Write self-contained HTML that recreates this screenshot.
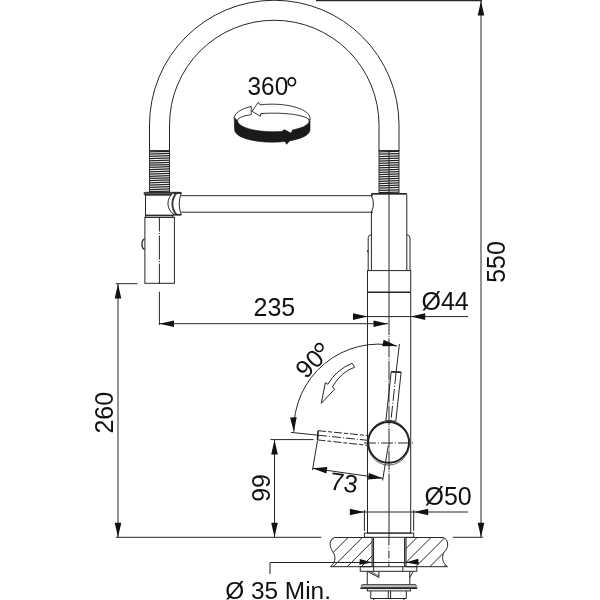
<!DOCTYPE html>
<html><head><meta charset="utf-8"><style>
html,body{margin:0;padding:0;background:#fff;}
svg{display:block;will-change:transform;}
.t{fill:none;stroke:#262626;stroke-width:1;}
.m{fill:none;stroke:#222;stroke-width:1.6;}
.w{fill:#fff;stroke:#262626;stroke-width:1;}
.f{fill:#111;stroke:none;}
text{font-family:"Liberation Sans",sans-serif;font-size:25px;fill:#111;}
</style></head><body>
<svg width="600" height="600" viewBox="0 0 600 600">
<path class="t" d="M149.5,151 V125 A124.75,124.75 0 0 1 399.0,125 V151"/>
<path class="t" d="M169.5,151 V125 A104.75,104.75 0 0 1 379.0,125 V151"/>
<rect x="149.5" y="150.5" width="20.0" height="42.0" fill="#fff" stroke="#333" stroke-width="1"/><line x1="149.5" y1="151.95526315789473" x2="169.5" y2="151.25526315789475" stroke="#222" stroke-width="1.25"/><line x1="149.5" y1="154.1657894736842" x2="169.5" y2="153.46578947368423" stroke="#222" stroke-width="1.25"/><line x1="149.5" y1="156.3763157894737" x2="169.5" y2="155.6763157894737" stroke="#222" stroke-width="1.25"/><line x1="149.5" y1="158.58684210526314" x2="169.5" y2="157.88684210526316" stroke="#222" stroke-width="1.25"/><line x1="149.5" y1="160.79736842105262" x2="169.5" y2="160.09736842105264" stroke="#222" stroke-width="1.25"/><line x1="149.5" y1="163.0078947368421" x2="169.5" y2="162.30789473684212" stroke="#222" stroke-width="1.25"/><line x1="149.5" y1="165.21842105263158" x2="169.5" y2="164.5184210526316" stroke="#222" stroke-width="1.25"/><line x1="149.5" y1="167.42894736842106" x2="169.5" y2="166.72894736842107" stroke="#222" stroke-width="1.25"/><line x1="149.5" y1="169.63947368421051" x2="169.5" y2="168.93947368421053" stroke="#222" stroke-width="1.25"/><line x1="149.5" y1="171.85" x2="169.5" y2="171.15" stroke="#222" stroke-width="1.25"/><line x1="149.5" y1="174.06052631578947" x2="169.5" y2="173.36052631578949" stroke="#222" stroke-width="1.25"/><line x1="149.5" y1="176.27105263157895" x2="169.5" y2="175.57105263157897" stroke="#222" stroke-width="1.25"/><line x1="149.5" y1="178.48157894736843" x2="169.5" y2="177.78157894736844" stroke="#222" stroke-width="1.25"/><line x1="149.5" y1="180.69210526315788" x2="169.5" y2="179.9921052631579" stroke="#222" stroke-width="1.25"/><line x1="149.5" y1="182.90263157894736" x2="169.5" y2="182.20263157894738" stroke="#222" stroke-width="1.25"/><line x1="149.5" y1="185.11315789473684" x2="169.5" y2="184.41315789473686" stroke="#222" stroke-width="1.25"/><line x1="149.5" y1="187.32368421052632" x2="169.5" y2="186.62368421052633" stroke="#222" stroke-width="1.25"/><line x1="149.5" y1="189.53421052631577" x2="169.5" y2="188.8342105263158" stroke="#222" stroke-width="1.25"/><line x1="149.5" y1="191.74473684210525" x2="169.5" y2="191.04473684210527" stroke="#222" stroke-width="1.25"/>
<rect x="379" y="150.5" width="20" height="43.0" fill="#fff" stroke="#333" stroke-width="1"/><line x1="379" y1="151.9815789473684" x2="399" y2="151.28157894736842" stroke="#222" stroke-width="1.25"/><line x1="379" y1="154.24473684210525" x2="399" y2="153.54473684210527" stroke="#222" stroke-width="1.25"/><line x1="379" y1="156.50789473684208" x2="399" y2="155.8078947368421" stroke="#222" stroke-width="1.25"/><line x1="379" y1="158.77105263157893" x2="399" y2="158.07105263157894" stroke="#222" stroke-width="1.25"/><line x1="379" y1="161.03421052631577" x2="399" y2="160.3342105263158" stroke="#222" stroke-width="1.25"/><line x1="379" y1="163.29736842105262" x2="399" y2="162.59736842105264" stroke="#222" stroke-width="1.25"/><line x1="379" y1="165.56052631578945" x2="399" y2="164.86052631578946" stroke="#222" stroke-width="1.25"/><line x1="379" y1="167.8236842105263" x2="399" y2="167.1236842105263" stroke="#222" stroke-width="1.25"/><line x1="379" y1="170.08684210526314" x2="399" y2="169.38684210526316" stroke="#222" stroke-width="1.25"/><line x1="379" y1="172.35" x2="399" y2="171.65" stroke="#222" stroke-width="1.25"/><line x1="379" y1="174.61315789473682" x2="399" y2="173.91315789473683" stroke="#222" stroke-width="1.25"/><line x1="379" y1="176.87631578947367" x2="399" y2="176.17631578947368" stroke="#222" stroke-width="1.25"/><line x1="379" y1="179.13947368421051" x2="399" y2="178.43947368421053" stroke="#222" stroke-width="1.25"/><line x1="379" y1="181.40263157894736" x2="399" y2="180.70263157894738" stroke="#222" stroke-width="1.25"/><line x1="379" y1="183.66578947368419" x2="399" y2="182.9657894736842" stroke="#222" stroke-width="1.25"/><line x1="379" y1="185.92894736842103" x2="399" y2="185.22894736842105" stroke="#222" stroke-width="1.25"/><line x1="379" y1="188.19210526315788" x2="399" y2="187.4921052631579" stroke="#222" stroke-width="1.25"/><line x1="379" y1="190.4552631578947" x2="399" y2="189.75526315789472" stroke="#222" stroke-width="1.25"/><line x1="379" y1="192.71842105263156" x2="399" y2="192.01842105263157" stroke="#222" stroke-width="1.25"/>
<rect x="144" y="192.3" width="37" height="2.6" rx="1" fill="#555" stroke="#222" stroke-width="0.8"/>
<rect class="t" x="145.5" y="195" width="28" height="20.3"/>
<rect class="t" x="145.7" y="215.3" width="27" height="2"/>
<rect class="t" x="144.9" y="217.3" width="29.5" height="66"/>
<path class="t" style="stroke-width:1.3" d="M144.6,238.9 C141.6,240 140.6,247.8 144.6,249.4"/>
<path class="w" d="M173.3,193 A13,13 0 0 0 174.3,214.7 L181.3,214.7 A30.4,30.4 0 0 1 181.3,193 Z"/>
<path fill="none" stroke="#3a3a3a" stroke-width="1.9" d="M176.2,193.3 A16.4,16.4 0 0 0 176.4,214.5"/>
<path fill="none" stroke="#222" stroke-width="1.5" d="M173.3,193 H181.3 M174.3,214.7 H181.3"/>
<line class="t" x1="181.3" y1="195.7" x2="373" y2="195.7" />
<line class="t" x1="181.3" y1="212.2" x2="373" y2="212.2" />
<line class="t" x1="159.4" y1="217" x2="159.4" y2="284" stroke-dasharray="14.5,1.5,1,1.5,24,1.5,1,1.5,40,0"/>
<line class="t" x1="159.4" y1="291.7" x2="159.4" y2="325" />
<path class="t" d="M371.4,195.7 V195 Q371.4,193.8 372.6,193.8 H405.6 Q406.8,193.8 406.8,195 V270.6"/><path class="t" d="M371.4,212 V270.6"/>
<path class="m" d="M371.4,193.8 H406.8" />
<path class="t" d="M371.4,195.7 Q375.5,204 371.4,212"/>
<path class="t" d="M368.2,270.6 V237.8 Q368.2,235 371.4,234.7"/>
<path class="t" d="M410.0,270.6 V237.8 Q410.0,235 406.8,234.7"/>
<path class="t" d="M368.2,249.8 Q366.6,251.2 368.2,252.6"/>
<rect class="t" x="367.5" y="270.6" width="43.2" height="262.5"/>
<line class="m" x1="367.5" y1="292.2" x2="410.7" y2="292.2" />
<rect class="t" x="364.4" y="533.1" width="49.3" height="4.2"/>
<line class="t" x1="389" y1="150.5" x2="389" y2="335" />
<line class="t" x1="389" y1="335" x2="389" y2="476" stroke-dasharray="0,1.2,1,1.2,19.1,0"/>
<line class="t" x1="389" y1="476" x2="389" y2="537.5" />
<circle cx="388.6" cy="442.4" r="20.4" fill="none" stroke="#1e1e1e" stroke-width="1.9"/>
<ellipse cx="388.6" cy="442.9" rx="20.9" ry="22.2" fill="none" stroke="#333" stroke-width="0.8"/>
<line class="t" x1="364" y1="443" x2="414" y2="443" stroke-dasharray="12,2,1,2"/>
<polygon class="t" points="391.2,371.7 401.1,372.25 395.8,421.25 385.9,420.7" fill="#fff"/>
<line class="m" x1="391.2" y1="371.7" x2="401.1" y2="372.25" />
<line class="t" x1="399.4" y1="344" x2="396.15" y2="372" />
<line class="t" x1="396.15" y1="372" x2="390.9" y2="421" stroke-dasharray="12,2,1,2"/>
<line class="t" x1="318.1" y1="430.7" x2="367.4" y2="435.5" stroke-dasharray="8,2,4,2"/>
<line class="t" x1="317.5" y1="439.9" x2="367" y2="445.3" stroke-dasharray="8,2,4,2"/>
<line class="m" x1="318.1" y1="430.7" x2="317.5" y2="439.9" />
<line class="t" x1="291" y1="432.4" x2="318" y2="435.2" />
<line class="t" x1="318" y1="435.2" x2="367.8" y2="440.3" stroke-dasharray="9,2,1,2"/>
<path class="t" d="M397.09,346.09 A85.0,85.0 0 0 0 293.84,431.80"/>
<polygon class="f" points="397.09,346.09 382.22,346.19 383.64,339.75"/>
<polygon class="f" points="293.84,431.80 290.08,417.41 296.68,417.20"/>
<path class="w" d="M352.1,363.2 L354.6,367.2 Q341,372 332.5,386.75 L334.6,389.25 L321.25,403.4 L325.4,382.6 L327.9,384.25 Q336,370 352.1,363.2 Z"/>
<line class="t" x1="317.5" y1="440.5" x2="312.5" y2="470" />
<line class="t" x1="388.2" y1="446" x2="382.6" y2="480.5" />
<line class="t" x1="312.5" y1="468.3" x2="382.8" y2="478.3" />
<polygon class="f" points="312.50,468.30 327.32,467.07 326.39,473.61"/>
<polygon class="f" points="382.80,478.30 367.98,479.53 368.91,472.99"/>
<line class="t" x1="316" y1="0.6" x2="482" y2="0.6" style="stroke-width:1.3"/>
<line class="t" x1="481" y1="1" x2="481" y2="537.3" />
<polygon class="f" points="481.00,1.00 484.30,15.50 477.70,15.50"/>
<polygon class="f" points="481.00,537.30 477.70,522.80 484.30,522.80"/>
<line class="t" x1="453" y1="537.3" x2="483" y2="537.3" />
<line class="t" x1="115.8" y1="283.7" x2="137.5" y2="283.7" />
<line class="t" x1="118" y1="284" x2="118" y2="537.3" />
<polygon class="f" points="118.00,284.00 121.30,298.50 114.70,298.50"/>
<polygon class="f" points="118.00,537.30 114.70,522.80 121.30,522.80"/>
<line class="t" x1="116" y1="537.3" x2="321.3" y2="537.3" />
<line class="t" x1="270.4" y1="439.6" x2="313.6" y2="439.6" />
<line class="t" x1="274.5" y1="440" x2="274.5" y2="537.3" />
<polygon class="f" points="274.50,440.00 277.80,454.50 271.20,454.50"/>
<polygon class="f" points="274.50,537.30 271.20,522.80 277.80,522.80"/>
<line class="t" x1="159.5" y1="323.7" x2="388" y2="323.7" />
<polygon class="f" points="159.50,323.70 174.00,320.40 174.00,327.00"/>
<polygon class="f" points="388.00,323.70 373.50,327.00 373.50,320.40"/>
<line class="t" x1="353" y1="316.6" x2="468" y2="316.6" />
<polygon class="f" points="367.50,316.60 353.00,319.90 353.00,313.30"/>
<polygon class="f" points="410.70,316.60 425.20,313.30 425.20,319.90"/>
<line class="t" x1="351" y1="512" x2="468" y2="512" />
<polygon class="f" points="364.40,512.00 349.90,515.30 349.90,508.70"/>
<polygon class="f" points="413.70,512.00 428.20,508.70 428.20,515.30"/>
<line class="t" x1="364.4" y1="510" x2="364.4" y2="531" />
<line class="t" x1="413.7" y1="510" x2="413.7" y2="531" />
<clipPath id="ctl"><path d="M372.2,537.5 H334.3 C329,540 329,546 332.7,551.7 C335.5,556 336.5,561 330.6,566.7 H372.2 Z"/></clipPath><clipPath id="ctr"><path d="M405.6,537.5 H443.3 C449,539.5 449,548 444.2,552.1 C441.5,556 442,563 447.5,566.7 H405.6 Z"/></clipPath>
<path class="t" clip-path="url(#ctl)" d="M341.45,530 L296.45,575 M355.60,530 L310.60,575 M369.75,530 L324.75,575 M383.90,530 L338.90,575 M398.05,530 L353.05,575 M412.20,530 L367.20,575"/>
<path class="t" clip-path="url(#ctr)" d="M410.50,530 L365.50,575 M424.50,530 L379.50,575 M438.50,530 L393.50,575 M452.50,530 L407.50,575 M466.50,530 L421.50,575 M480.50,530 L435.50,575"/>
<path class="t" d="M372.2,537.5 H334.3 C329,540 329,546 332.7,551.7 C335.5,556 336.5,561 330.6,566.7 H372.2"/>
<path class="t" d="M405.6,537.5 H443.3 C449,539.5 449,548 444.2,552.1 C441.5,556 442,563 447.5,566.7 H405.6"/>
<line class="t" x1="372.1" y1="537.5" x2="372.1" y2="566.7" style="stroke-width:1.1"/>
<line class="t" x1="373.5" y1="537.5" x2="373.5" y2="566.7" style="stroke-width:1.1"/>
<line class="t" x1="404.6" y1="537.5" x2="404.6" y2="566.7" style="stroke-width:1.1"/>
<line class="t" x1="406" y1="537.5" x2="406" y2="566.7" style="stroke-width:1.1"/>
<line class="t" x1="388.9" y1="537.5" x2="388.9" y2="566.7" stroke-dasharray="8,2,1,2"/>
<path class="t" d="M270,574 V562.5 H418.75"/>
<polygon class="f" points="372.10,562.50 359.47,564.87 359.77,558.88"/>
<polygon class="f" points="405.40,562.50 418.23,558.85 418.53,564.85"/>
<rect class="t" x="360.25" y="566.7" width="56.55" height="4.6"/>
<line class="t" x1="373.7" y1="566.7" x2="373.7" y2="571.3" />
<line class="t" x1="402.8" y1="566.7" x2="402.8" y2="571.3" />
<path class="t" d="M367.25,571.3 V584.5 M409.8,571.3 V584.5"/>
<path class="t" d="M367.5,571.3 L378.9,577.5 V571.3"/><path class="t" style="stroke-width:0.8" d="M370.2,571.3 L378.9,576"/>
<line class="t" x1="409.8" y1="577.5" x2="413.3" y2="571.3" />
<rect x="361.5" y="584.6" width="54.8" height="3.2" rx="1.2" fill="#b8b8b8" stroke="#333" stroke-width="0.9"/>
<line class="t" x1="360.25" y1="588.2" x2="417.4" y2="588.2" style="stroke-width:1.4"/>
<rect class="t" x="367.25" y="588.6" width="43.15" height="2.3"/>
<path class="t" d="M370.75,590.9 V598.5 H406.3 V590.9 M373.7,598.5 V600 M404,598.5 V600"/>
<line class="t" x1="388.25" y1="590.9" x2="388.25" y2="598.5" />
<line class="t" x1="390.6" y1="590.9" x2="390.6" y2="598.5" />
<path fill="#1a1a1a" stroke="#1a1a1a" stroke-width="0.6" d="M234.2,117.3 L237.5,120.9 A35.85,11.05 0 0 0 309.2,120.5 L310,119 L310,130 A37.7,12.2 0 0 1 234.6,130 Z"/>
<path class="w" style="stroke-width:0.9" d="M234.2,117.3 A37.9,14.25 0 0 1 251.25,106.4 L251.25,114.6 A35.85,7.5 0 0 0 237.5,120.9 Z"/>
<path class="w" style="stroke-width:0.9" d="M252.1,111.3 L258.3,102.2 L260,104.9 A37.9,14.25 0 0 1 310,119 L309.2,120.5 A35.85,7.5 0 0 0 260.8,113.6 L260.4,116.3 Z"/>
<path fill="#fff" d="M286,130.2 L291,132.8 L292.1,130.2 L292.1,128.5 L286,128.5 Z"/>
<path fill="#1a1a1a" d="M281,132.2 L284.1,129.15 L287.5,130.95 L287.5,133 L281,133 Z"/>
<path fill="#1a1a1a" d="M284,140.5 L285.3,142.3 L286.45,144.75 L290.6,140.3 L288,139.5 Z"/>
<text x="247.6" y="94.5" textLength="40.6" lengthAdjust="spacingAndGlyphs">360</text>
<ellipse cx="291.8" cy="81.8" rx="3.7" ry="3.95" fill="none" stroke="#111" stroke-width="1.7"/>
<text x="274.4" y="316.25" text-anchor="middle">235</text>
<text x="421.5" y="309.7">Ø44</text>
<text x="424.5" y="505.1">Ø50</text>
<text x="225.2" y="598.5" style="font-size:24.4px">Ø 35 Min.</text>
<text transform="translate(504.7,262) rotate(-90)" text-anchor="middle">550</text>
<text transform="translate(112.7,412.7) rotate(-90)" text-anchor="middle">260</text>
<text transform="translate(270,487.9) rotate(-90)" text-anchor="middle">99</text>
<text transform="translate(342.75,491.3) rotate(8.1)" text-anchor="middle">73</text>
<g transform="translate(317.5,368) rotate(-45)"><text x="-16.5" y="0">90</text><circle cx="15.6" cy="-13.3" r="3.85" fill="none" stroke="#111" stroke-width="1.7"/></g>
</svg>
</body></html>
